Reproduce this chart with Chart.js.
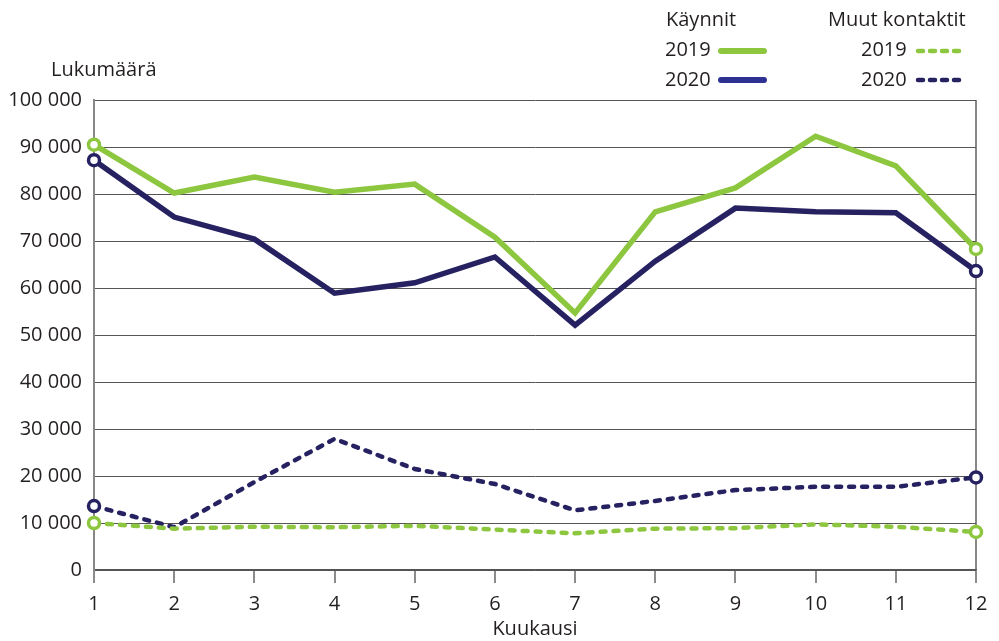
<!DOCTYPE html>
<html>
<head>
<meta charset="utf-8">
<script src="https://cdn.jsdelivr.net/npm/chart.js@4/dist/chart.umd.min.js"></script>
<style>
  html, body { margin: 0; padding: 0; background: #fff; }
  #wrap { position: relative; width: 999px; height: 641px; font-family: "Open Sans", "Noto Sans", sans-serif; color: #231f20; }
  canvas { position: absolute; left: 0; top: 0; }
  .t { position: absolute; font-size: 20px; white-space: nowrap; line-height: 1; }
  .ln { position: absolute; height: 6px; border-radius: 3px; }
</style>
</head>
<body>
<div id="wrap">
  <canvas id="c" width="999" height="641"></canvas>
  <div class="t" style="left:51px;top:59px;">Lukumäärä</div>
  <div class="t" style="left:666px;top:9px;">Käynnit</div>
  <div class="t" style="left:828px;top:9px;">Muut kontaktit</div>
  <div class="t" style="left:665px;top:39px;">2019</div>
  <div class="t" style="left:665px;top:69px;">2020</div>
  <div class="t" style="left:861px;top:39px;">2019</div>
  <div class="t" style="left:861px;top:69px;">2020</div>
  <div class="ln" style="left:718px;top:48px;width:49px;background:#8dc63f;"></div>
  <div class="ln" style="left:718px;top:77px;width:49px;background:#2e3192;"></div>
  <canvas id="lg" width="60" height="60" style="left:912px;top:36px;"></canvas>
</div>
<script>
const months = ['1','2','3','4','5','6','7','8','9','10','11','12'];
const yTicks = [0,10000,20000,30000,40000,50000,60000,70000,80000,90000,100000];
const visits2019 = [90500, 80200, 83600, 80400, 82100, 70800, 54700, 76200, 81300, 92300, 86000, 68300];
const visits2020 = [87200, 75100, 70400, 58900, 61100, 66600, 52100, 65700, 77000, 76200, 76000, 63600];
const other2019 = [10000, 8800, 9200, 9100, 9400, 8600, 7800, 8800, 8900, 9700, 9200, 8100];
const other2020 = [13600, 9100, 18700, 27900, 21500, 18300, 12700, 14700, 17000, 17700, 17700, 19700];

const GREEN = '#8dc63f';
const NAVY = '#262261';

// legend dashed samples
(function(){
  const g = document.getElementById('lg').getContext('2d');
  g.lineWidth = 4.5; g.lineCap = 'round'; g.setLineDash([5, 7]);
  g.strokeStyle = GREEN; g.beginPath(); g.moveTo(6, 15); g.lineTo(50, 15); g.stroke();
  g.strokeStyle = NAVY; g.beginPath(); g.moveTo(6, 44); g.lineTo(50, 44); g.stroke();
})();

const endPts = ctx => (ctx.dataIndex === 0 || ctx.dataIndex === months.length - 1) ? 5.5 : 0;

function ds(label, data, color, dashed) {
  return {
    label, data,
    borderColor: color,
    backgroundColor: '#ffffff',
    borderWidth: dashed ? 4.5 : 5.5,
    borderDash: dashed ? [5, 8] : [],
    borderCapStyle: dashed ? 'round' : 'butt',
    borderJoinStyle: 'miter',
    tension: 0,
    pointRadius: endPts,
    pointHoverRadius: endPts,
    pointBorderWidth: 3.5,
    pointBorderColor: color,
    pointBackgroundColor: '#ffffff',
    fill: false
  };
}

new Chart(document.getElementById('c'), {
  type: 'line',
  data: {
    labels: months,
    datasets: [
      ds('Muut kontaktit 2019', other2019, GREEN, true),
      ds('Muut kontaktit 2020', other2020, NAVY, true),
      ds('Käynnit 2019', visits2019, GREEN, false),
      ds('Käynnit 2020', visits2020, NAVY, false)
    ]
  },
  options: {
    responsive: false,
    animation: false,
    events: [],
    layout: { padding: { top: 100, right: 23, bottom: 0, left: 0 } },
    plugins: { legend: { display: false }, tooltip: { enabled: false } },
    scales: {
      x: {
        offset: false,
        afterFit: s => { s.height = 71; },
        border: { display: true, color: '#555', width: 1.5 },
        grid: {
          display: true,
          drawOnChartArea: true,
          color: c => c.index === months.length - 1 ? '#888' : 'rgba(0,0,0,0)',
          lineWidth: 2,
          tickColor: '#666',
          tickLength: 13,
          tickWidth: 1.5
        },
        ticks: { color: '#231f20', font: { family: 'Open Sans', size: 20 }, padding: 9, maxRotation: 0 },
        title: { display: true, text: 'Kuukausi', color: '#231f20', font: { family: 'Open Sans', size: 20 }, padding: { top: 0, bottom: 0 } }
      },
      y: {
        min: 0, max: 100000,
        afterFit: s => { s.width = 94; },
        afterBuildTicks: s => { s.ticks = yTicks.map(v => ({ value: v })); },
        border: { display: true, color: '#888', width: 2 },
        grid: { color: '#555', lineWidth: 1, drawTicks: false },
        ticks: {
          color: '#231f20',
          font: { family: 'Open Sans', size: 20 },
          padding: 12,
          callback: v => v === 0 ? '0' : String(v).replace(/\B(?=(\d{3})+(?!\d))/g, ' ')
        }
      }
    }
  }
});
</script>
</body>
</html>
